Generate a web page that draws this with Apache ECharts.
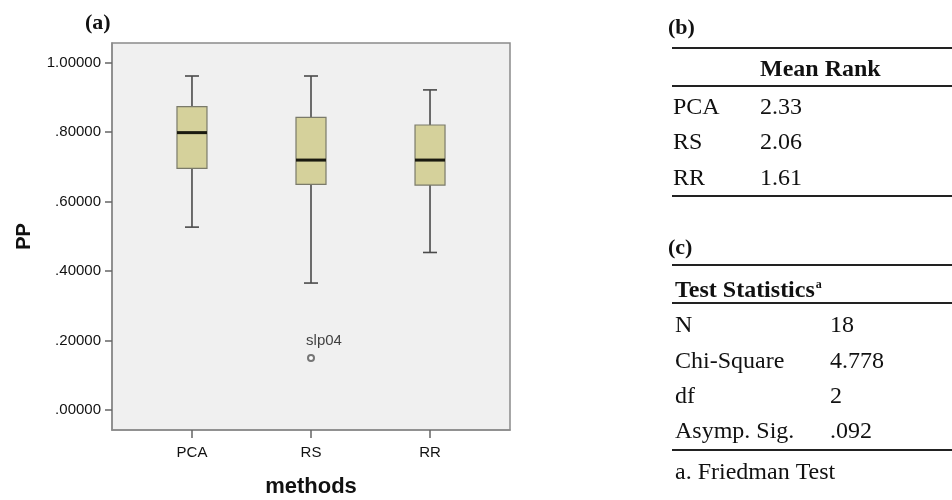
<!DOCTYPE html>
<html>
<head>
<meta charset="utf-8">
<script src="https://cdn.jsdelivr.net/npm/echarts@6/dist/echarts.min.js"></script>
<style>
html,body{margin:0;padding:0;background:#fff;}
#chart{width:952px;height:500px;}
</style>
</head>
<body>
<div id="chart"></div>
<script>
// ---- data ----
const categories = ['PCA', 'RS', 'RR'];
const whiskerLow = [0.526, 0.365, 0.453];
const q1 = [0.695, 0.649, 0.647];
const median = [0.798, 0.719, 0.719];
const q3 = [0.873, 0.842, 0.820];
const whiskerHigh = [0.961, 0.961, 0.921];
const outlierCategory = ['RS'];
const outlierValue = [0.149];
const outlierLabel = ['slp04'];
const yTicks = [0, 0.2, 0.4, 0.6, 0.8, 1.0];

const rankMethods = ['PCA', 'RS', 'RR'];
const meanRanks = ['2.33', '2.06', '1.61'];
const statNames = ['N', 'Chi-Square', 'df', 'Asymp. Sig.'];
const statValues = ['18', '4.778', '2', '.092'];

// ---- build ----
const boxData = categories.map((c, i) => [i, whiskerLow[i], q1[i], median[i], q3[i], whiskerHigh[i]]);
const outlierData = outlierCategory.map((c, i) => ({
  value: [categories.indexOf(c), outlierValue[i]],
  name: outlierLabel[i]
}));

function fmtY(v) {
  let s = v.toFixed(5);
  if (s.startsWith('0')) s = s.slice(1);
  return s;
}

const serif = '"Liberation Serif", "Times New Roman", serif';
const sans = '"Liberation Sans", Arial, sans-serif';

function renderBox(params, api) {
  const x = api.value(0);
  const pLow = api.coord([x, api.value(1)]);
  const pQ1 = api.coord([x, api.value(2)]);
  const pMed = api.coord([x, api.value(3)]);
  const pQ3 = api.coord([x, api.value(4)]);
  const pHigh = api.coord([x, api.value(5)]);
  const cx = pMed[0];
  const bw = 30, cw = 14;
  const lineStyle = { stroke: '#4a4a4a', lineWidth: 1.6 };
  return {
    type: 'group',
    children: [
      { type: 'line', shape: { x1: cx, y1: pHigh[1], x2: cx, y2: pQ3[1] }, style: lineStyle },
      { type: 'line', shape: { x1: cx, y1: pQ1[1], x2: cx, y2: pLow[1] }, style: lineStyle },
      { type: 'line', shape: { x1: cx - cw / 2, y1: pHigh[1], x2: cx + cw / 2, y2: pHigh[1] }, style: lineStyle },
      { type: 'line', shape: { x1: cx - cw / 2, y1: pLow[1], x2: cx + cw / 2, y2: pLow[1] }, style: lineStyle },
      { type: 'rect', shape: { x: cx - bw / 2, y: pQ3[1], width: bw, height: pQ1[1] - pQ3[1] },
        style: { fill: '#d5d19b', stroke: '#7a7a6a', lineWidth: 1.2 } },
      { type: 'line', shape: { x1: cx - bw / 2, y1: pMed[1], x2: cx + bw / 2, y2: pMed[1] },
        style: { stroke: '#1a1a10', lineWidth: 3 } }
    ]
  };
}

// table graphics
const g = [];
function txt(x, y, text, opts) {
  g.push(Object.assign({
    type: 'text', x: x, y: y,
    style: Object.assign({ text: text, fill: '#111', font: '24px ' + serif, textVerticalAlign: 'middle', textAlign: 'left' }, opts || {})
  }));
}
function hline(y, x1, x2, w) {
  g.push({ type: 'line', shape: { x1: x1, y1: y, x2: x2, y2: y }, style: { stroke: '#222', lineWidth: w || 2 } });
}
// (a)
txt(85, 23, '(a)', { font: 'bold 22px ' + serif });
// (b)
txt(668, 28, '(b)', { font: 'bold 22px ' + serif });
hline(48, 672, 952);
txt(760, 70, 'Mean Rank', { font: 'bold 24px ' + serif });
hline(86, 672, 952);
const rowYb = [108, 143, 179];
rankMethods.forEach((m, i) => {
  txt(673, rowYb[i], m);
  txt(760, rowYb[i], meanRanks[i]);
});
hline(196, 672, 952);
// (c)
txt(668, 248, '(c)', { font: 'bold 22px ' + serif });
hline(265, 672, 952);
g.push({
  type: 'text', x: 675, y: 291,
  style: {
    text: '{h|Test Statistics}{s|a}',
    textVerticalAlign: 'middle',
    rich: {
      h: { font: 'bold 24px ' + serif, fill: '#111' },
      s: { font: 'bold 12px ' + serif, fill: '#111', verticalAlign: 'top', padding: [0, 0, 10, 1] }
    }
  }
});
hline(303, 672, 952);
const rowYc = [326, 362, 397, 432];
statNames.forEach((n, i) => {
  txt(675, rowYc[i], n);
  txt(830, rowYc[i], statValues[i]);
});
hline(450, 672, 952);
txt(675, 473, 'a. Friedman Test');

const chart = echarts.init(document.getElementById('chart'));
chart.setOption({
  animation: false,
  backgroundColor: '#fff',
  grid: {
    left: 112, right: 442, top: 43, bottom: 70,
    outerBoundsMode: 'none', containLabel: false,
    show: true, backgroundColor: '#f0f0f0', borderColor: '#8a8a8a', borderWidth: 1.5
  },
  xAxis: {
    type: 'value',
    min: -0.672, max: 2.672,
    splitLine: { show: false },
    axisLine: { show: true, onZero: false, lineStyle: { color: '#8a8a8a', width: 1.5 } },
    axisTick: { show: true, customValues: categories.map((c, i) => i), length: 8, lineStyle: { color: '#666', width: 1.5 } },
    axisLabel: {
      customValues: categories.map((c, i) => i),
      formatter: v => categories[Math.round(v)] || '',
      color: '#111', fontSize: 15, fontFamily: sans, margin: 15
    },
    name: 'methods', nameLocation: 'middle', nameGap: 46,
    nameTextStyle: { fontSize: 22, fontWeight: 'bold', color: '#111', fontFamily: sans }
  },
  yAxis: {
    type: 'value',
    min: -0.058, max: 1.056,
    splitLine: { show: false },
    axisLine: { show: true, onZero: false, lineStyle: { color: '#8a8a8a', width: 1.5 } },
    axisTick: { show: true, customValues: yTicks, length: 7, lineStyle: { color: '#666', width: 1.5 } },
    axisLabel: {
      customValues: yTicks, formatter: fmtY,
      color: '#111', fontSize: 15, fontFamily: sans, margin: 11
    },
    name: 'PP', nameLocation: 'middle', nameGap: 78, nameRotate: 90,
    nameTextStyle: { fontSize: 20, fontWeight: 'bold', color: '#111', fontFamily: sans }
  },
  series: [
    {
      type: 'custom',
      renderItem: renderBox,
      data: boxData,
      encode: { x: 0, y: [1, 2, 3, 4, 5] },
      z: 3
    },
    {
      type: 'scatter',
      data: outlierData,
      symbol: 'emptyCircle',
      symbolSize: 6,
      itemStyle: { color: '#555', borderColor: '#555', borderWidth: 1 },
      label: {
        show: true, formatter: p => p.name, position: 'top', offset: [13, -1],
        fontSize: 15, fontFamily: sans, color: '#111'
      },
      z: 4
    }
  ],
  graphic: g
});
</script>
</body>
</html>
